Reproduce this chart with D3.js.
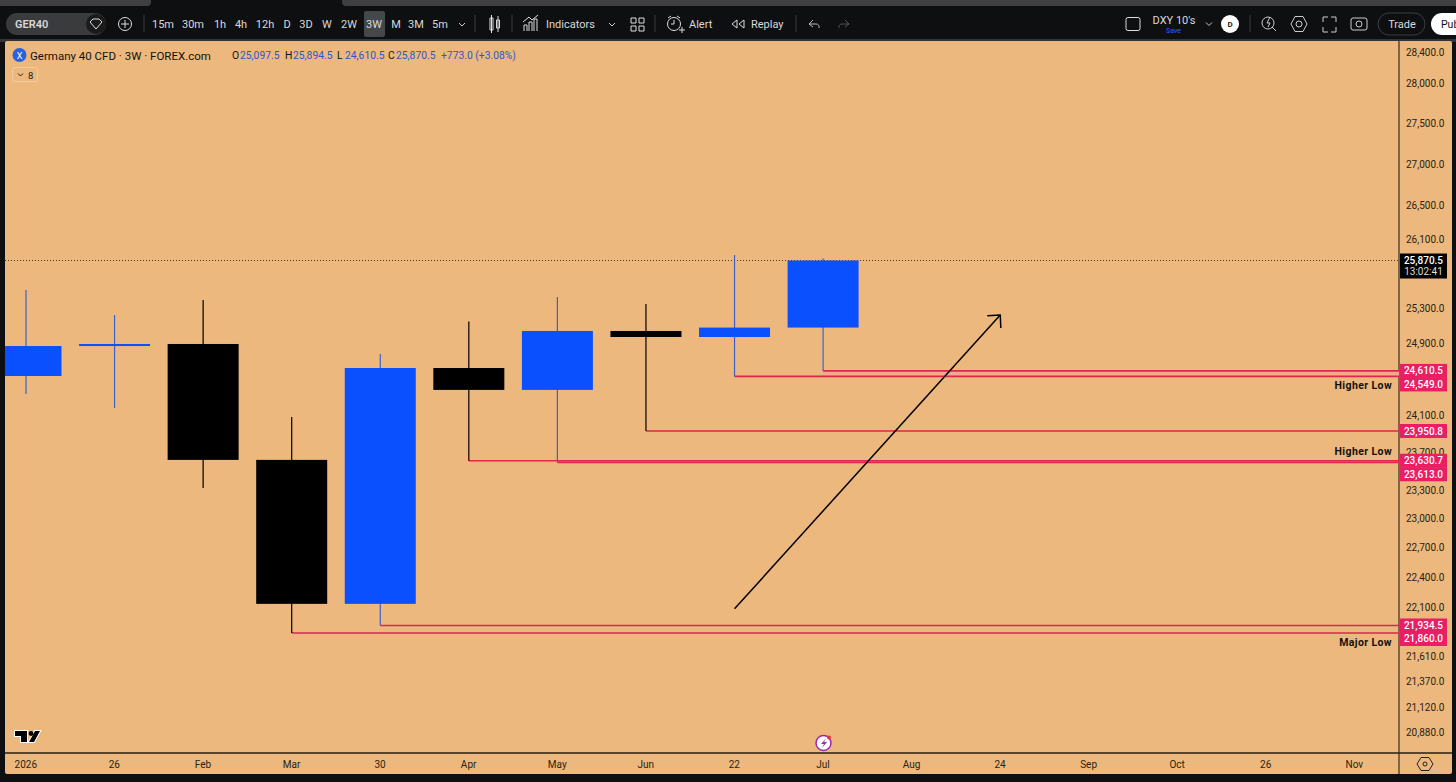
<!DOCTYPE html>
<html>
<head>
<meta charset="utf-8">
<script src="https://cdn.jsdelivr.net/npm/d3@7"></script>
<style>
	html, body { margin: 0; padding: 0; background: #0e0f11; overflow: hidden; }
	svg { display: block; }
	text { font-family: Roboto, sans-serif; }
	.axis path, .axis line { display: none; }
	.axis text { fill: #2a1f10; font-size: 10px; font-family: Roboto, sans-serif; }
</style>
</head>
<body>
<svg width="1456" height="782"></svg>
<script>
// candles (index = 3W bar)
const opens = [24554, 24889, 24912, 23640, 22150, 24643, 24400, 25059, 24991, 25097.5];
const highs = [25528, 25241, 25413, 24103, 24799, 25168, 25447, 25367, 25935, 25894.5];
const lows = [24355, 24202, 23342, 21860, 21934.5, 23630.7, 23613, 23950.8, 24549, 24610.5];
const closes = [24889, 24912, 23640, 22150, 24643, 24400, 25059, 24991, 25097.5, 25870.5];

const priceTicks = [28400, 28000, 27500, 27000, 26500, 26100, 25300, 24900, 24100, 23700, 23300, 23000, 22700, 22400, 22100, 21610, 21370, 21120, 20880];
const timeTicks = ["2026", "26", "Feb", "Mar", "30", "Apr", "May", "Jun", "22", "Jul", "Aug", "24", "Sep", "Oct", "26", "Nov"];

// horizontal lows: start bar + price
const levelPrices = [24610.5, 24549, 23950.8, 23630.7, 23613, 21934.5, 21860];
const levelBars = [9, 8, 7, 5, 6, 4, 3];

const noteTexts = ["Higher Low", "Higher Low", "Major Low"];
const notePrices = [24549, 23630.7, 21860];

const arrowBars = [8, 11];
const arrowPrices = [22100, 25241];

const lastPrice = 25870.5;
const toolbarItems = ["15m", "30m", "1h", "4h", "12h", "D", "3D", "W", "2W", "3W", "M", "3M", "5m"];
const toolbarX = [163, 193, 220, 241, 265, 287, 306, 327, 349, 374, 396, 416, 440];
const ohlcLabels = ["O", "H", "L", "C"];
const ohlcValues = ["25,097.5", "25,894.5", "24,610.5", "25,870.5"];

const BG = "#ecb87e";
const BLUE = "#0a50ff";
const PINK = "#e91e63";
const LINE = "#e0254f";

const svg = d3.select("svg");
const plotLeft = 5, plotRight = 1399, plotTop = 41, plotBottom = 753, axisRight = 1452, axisBottom = 774;

const y = d3.scaleLog().domain([21860, 25870.5]).range([633, 260.5]);
const x = d3.scaleLinear().domain([0, 15]).range([26, 1354.5]);
const candleWidth = 71;

// top strip + toolbar
svg.append("rect").attr("width", 1456).attr("height", 782).attr("fill", "#0e0f11");
svg.append("rect").attr("x", -5).attr("y", -4).attr("width", 156).attr("height", 10).attr("rx", 4).attr("fill", "#3f3f41");
svg.append("rect").attr("x", 342).attr("y", -4).attr("width", 1120).attr("height", 10).attr("rx", 4).attr("fill", "#3f3f41");
svg.append("rect").attr("x", 0).attr("y", 39).attr("width", 1456).attr("height", 3).attr("fill", "#333436");

// panels
svg.append("rect").attr("x", plotLeft).attr("y", plotTop).attr("width", axisRight - plotLeft).attr("height", axisBottom - plotTop).attr("rx", 2).attr("fill", BG);
svg.append("line").attr("x1", plotRight).attr("x2", plotRight).attr("y1", plotTop).attr("y2", axisBottom).attr("stroke", "#3a2c17").attr("stroke-width", 1.2);
svg.append("line").attr("x1", plotLeft).attr("x2", axisRight).attr("y1", plotBottom).attr("y2", plotBottom).attr("stroke", "#2a1f10").attr("stroke-width", 1.5);

const defs = svg.append("defs");
defs.append("clipPath").attr("id", "plot")
	.append("rect").attr("x", plotLeft).attr("y", plotTop).attr("width", plotRight - plotLeft).attr("height", plotBottom - plotTop);
const plot = svg.append("g").attr("clip-path", "url(#plot)");

// last price dotted line
plot.append("line")
	.attr("x1", plotLeft).attr("x2", plotRight)
	.attr("y1", y(lastPrice)).attr("y2", y(lastPrice))
	.attr("stroke", "#1a1a1a").attr("stroke-width", 0.8).attr("stroke-dasharray", "1 2");

// shaded band between the first two levels
plot.append("rect")
	.attr("x", x(levelBars[0])).attr("width", plotRight - x(levelBars[0]))
	.attr("y", y(levelPrices[0])).attr("height", y(levelPrices[1]) - y(levelPrices[0]))
	.attr("fill", "#f6a88f");

// levels
plot.selectAll("line.level")
	.data(levelPrices)
	.enter()
	.append("line")
	.attr("class", "level")
	.attr("x1", (d, i) => x(levelBars[i]))
	.attr("x2", plotRight)
	.attr("y1", d => y(d))
	.attr("y2", d => y(d))
	.attr("stroke", LINE)
	.attr("stroke-width", 1.7);

// candles
const bars = d3.range(opens.length);
const barColor = i => (closes[i] >= opens[i] ? BLUE : "#000");

plot.selectAll("line.wick")
	.data(bars)
	.enter()
	.append("line")
	.attr("class", "wick")
	.attr("x1", i => x(i)).attr("x2", i => x(i))
	.attr("y1", i => y(highs[i])).attr("y2", i => y(lows[i]))
	.attr("stroke", i => (closes[i] >= opens[i] ? "#3a63c8" : "#000"))
	.attr("stroke-width", 1.2);

plot.selectAll("rect.body")
	.data(bars)
	.enter()
	.append("rect")
	.attr("class", "body")
	.attr("x", i => x(i) - candleWidth / 2)
	.attr("width", candleWidth)
	.attr("y", i => y(Math.max(opens[i], closes[i])))
	.attr("height", i => Math.max(1.5, Math.abs(y(opens[i]) - y(closes[i]))))
	.attr("fill", barColor);

// arrow
const ax1 = x(arrowBars[0]), ay1 = y(arrowPrices[0]), ax2 = x(arrowBars[1]), ay2 = y(arrowPrices[1]);
const ang = Math.atan2(ay2 - ay1, ax2 - ax1);
plot.append("line")
	.attr("x1", ax1).attr("y1", ay1).attr("x2", ax2).attr("y2", ay2)
	.attr("stroke", "#000").attr("stroke-width", 1.5);
plot.append("path")
	.attr("d", d3.line()([
		[ax2 + 13 * Math.cos(ang + 2.36), ay2 + 13 * Math.sin(ang + 2.36)],
		[ax2, ay2],
		[ax2 + 13 * Math.cos(ang - 2.36), ay2 + 13 * Math.sin(ang - 2.36)],
	]))
	.attr("fill", "none").attr("stroke", "#000").attr("stroke-width", 1.5);

// notes
svg.selectAll("text.note")
	.data(noteTexts)
	.enter()
	.append("text")
	.attr("class", "note")
	.attr("x", 1392)
	.attr("y", (d, i) => y(notePrices[i]) + (i === 1 ? -6 : 13))
	.attr("text-anchor", "end")
	.attr("font-size", 10.5)
	.attr("font-weight", 700)
	.attr("letter-spacing", 0.4)
	.attr("fill", "#111")
	.text(d => d);

// axes
svg.append("g")
	.attr("class", "axis")
	.attr("transform", `translate(${plotRight + 1},-2)`)
	.call(d3.axisRight(y).tickValues(priceTicks).tickSize(0).tickPadding(6).tickFormat(d3.format(",.1f")));

svg.append("g")
	.attr("class", "axis")
	.attr("transform", `translate(-0.7,${plotBottom + 2})`)
	.call(d3.axisBottom(x).tickValues(d3.range(timeTicks.length)).tickSize(0).tickPadding(6).tickFormat(i => timeTicks[i]));

// price tags, pushed down when they would overlap
let prevTag = -100;
levelPrices.forEach(p => {
	const cy = Math.max(y(p), prevTag + 13.5);
	prevTag = cy;
	svg.append("rect").attr("x", plotRight + 1).attr("y", cy - 7).attr("width", 47).attr("height", 14).attr("fill", PINK);
	svg.append("text").attr("x", plotRight + 24.5).attr("y", cy + 3.5).attr("text-anchor", "middle")
		.attr("font-size", 10).attr("font-weight", 500).attr("fill", "#fff").text(d3.format(",.1f")(p));
});

// last price tag
svg.append("rect").attr("x", plotRight + 1).attr("y", y(lastPrice) - 7).attr("width", 47).attr("height", 25).attr("fill", "#000");
svg.append("text").attr("x", plotRight + 24.5).attr("y", y(lastPrice) + 3.5).attr("text-anchor", "middle")
	.attr("font-size", 10).attr("font-weight", 500).attr("fill", "#fff").text(d3.format(",.1f")(lastPrice));
svg.append("text").attr("x", plotRight + 24.5).attr("y", y(lastPrice) + 14.5).attr("text-anchor", "middle")
	.attr("font-size", 10).attr("fill", "#ddd").text("13:02:41");

// legend
svg.append("circle").attr("cx", 19.5).attr("cy", 55).attr("r", 7).attr("fill", "#2962d9");
svg.append("text").attr("x", 19.5).attr("y", 58.5).attr("text-anchor", "middle").attr("font-size", 9).attr("fill", "#fff").text("X");
svg.append("text").attr("x", 30).attr("y", 60).attr("font-size", 11.5).attr("fill", "#111").text("Germany 40 CFD · 3W · FOREX.com");

const ohlcX = [232, 285, 337, 388];
ohlcLabels.forEach((l, i) => {
	svg.append("text").attr("x", ohlcX[i]).attr("y", 59).attr("font-size", 10.3).attr("fill", "#111").text(l);
	svg.append("text").attr("x", ohlcX[i] + 8).attr("y", 59).attr("font-size", 10.3).attr("fill", "#2f55c8").text(ohlcValues[i]);
});
svg.append("text").attr("x", 441).attr("y", 59).attr("font-size", 10.3).attr("fill", "#2f55c8").text("+773.0 (+3.08%)");

svg.append("rect").attr("x", 12.5).attr("y", 67.5).attr("width", 25).attr("height", 14).attr("rx", 2).attr("fill", "none").attr("stroke", "#f3cda1");
svg.append("path").attr("d", "M18 73.5l2.5 2.5l2.5-2.5").attr("fill", "none").attr("stroke", "#222");
svg.append("text").attr("x", 28).attr("y", 79).attr("font-size", 9.5).attr("fill", "#222").text("8");

// tradingview mark
const tv = svg.append("g").attr("transform", "translate(14,730)");
tv.append("path").attr("d", "M1 1H13V12H7V6H1Z M21 1H26L20 12H15Z").attr("fill", "#000").attr("stroke", "#fff").attr("stroke-width", 2).attr("paint-order", "stroke");
tv.append("circle").attr("cx", 17).attr("cy", 3.5).attr("r", 2.4).attr("fill", "#000");

// axis settings + flash mark
svg.append("path").attr("d", "M1421 757.5h8l4 6.5l-4 6.5h-8l-4-6.5z").attr("fill", "none").attr("stroke", "#222");
svg.append("circle").attr("cx", 1425).attr("cy", 764).attr("r", 2).attr("fill", "none").attr("stroke", "#222");
svg.append("circle").attr("cx", 823.5).attr("cy", 743).attr("r", 7.5).attr("fill", "#fff").attr("stroke", "#9c27b0").attr("stroke-width", 1.5);
svg.append("path").attr("d", "M826 738.5L821 744H824L822 748L827 742H824Z").attr("fill", "#9c27b0");
svg.append("circle").attr("cx", 829).attr("cy", 737.5).attr("r", 2).attr("fill", "#e53935");

// toolbar
svg.append("rect").attr("x", 6).attr("y", 13).attr("width", 100).attr("height", 22).attr("rx", 11).attr("fill", "#3a3b3d");
svg.append("rect").attr("x", 364).attr("y", 11).attr("width", 21).attr("height", 26).attr("rx", 2).attr("fill", "#464749");

const tb = svg.append("g").attr("fill", "#d9d9d9").attr("font-size", 11).attr("text-anchor", "middle");
svg.append("circle").attr("cx", 96).attr("cy", 24).attr("r", 10).attr("fill", "#1b1b1c");
svg.append("path").attr("d", "M90 22L93 19H99L102 22L96 29Z").attr("fill", "none").attr("stroke", "#ddd");
tb.append("text").attr("x", 15).attr("y", 28).attr("text-anchor", "start").attr("font-weight", 600).text("GER40");

svg.append("circle").attr("cx", 125).attr("cy", 24).attr("r", 6.5).attr("fill", "none").attr("stroke", "#ddd");
svg.append("path").attr("d", "M121 24H129M125 20V28").attr("stroke", "#ddd");

toolbarItems.forEach((t, i) => {
	tb.append("text").attr("x", toolbarX[i]).attr("y", 28).text(t);
});
svg.append("path").attr("d", "M459 23l3 3l3-3").attr("fill", "none").attr("stroke", "#ccc");

const seps = [144, 475, 512, 655, 796, 1250];
svg.selectAll("line.sep").data(seps).enter().append("line").attr("class", "sep")
	.attr("x1", d => d).attr("x2", d => d).attr("y1", 15).attr("y2", 32).attr("stroke", "#3c3d3f");

// candle icon
svg.append("path").attr("d", "M490 18h3v12h-3z M496.5 20h3v8h-3z M491.5 15v18 M498 16v16").attr("fill", "none").attr("stroke", "#ddd");
// indicators icon
svg.append("path").attr("d", "M524 31V25h3v6 M529 31V22h3v9 M534 31V19h3v12 M523 22l6-5l3 3l6-5").attr("fill", "none").attr("stroke", "#ddd");
tb.append("text").attr("x", 546).attr("y", 28).attr("text-anchor", "start").text("Indicators");
svg.append("path").attr("d", "M609 23l3 3l3-3").attr("fill", "none").attr("stroke", "#ccc");
svg.append("path").attr("d", "M631 18h5v5h-5z M639 18h5v5h-5z M631 26h5v5h-5z M639 26h5v5h-5z").attr("fill", "none").attr("stroke", "#ddd");
// alert
svg.append("circle").attr("cx", 674).attr("cy", 24).attr("r", 6.5).attr("fill", "none").attr("stroke", "#ddd");
svg.append("path").attr("d", "M674 20v4h-3 M679 30h6M682 27v6 M668 18l3-2 M680 18l-3-2").attr("fill", "none").attr("stroke", "#ddd");
tb.append("text").attr("x", 689).attr("y", 28).attr("text-anchor", "start").text("Alert");
// replay
svg.append("path").attr("d", "M737 20l-5 4l5 4z M744 20l-5 4l5 4z").attr("fill", "none").attr("stroke", "#ddd");
tb.append("text").attr("x", 751).attr("y", 28).attr("text-anchor", "start").text("Replay");
// undo, redo
svg.append("path").attr("d", "M809 24l4-4M809 24l4 3M809 24h7a3 3 0 0 1 3 4").attr("fill", "none").attr("stroke", "#bbb");
svg.append("path").attr("d", "M849 24l-4-4M849 24l-4 3M849 24h-7a3 3 0 0 0 -3 4").attr("fill", "none").attr("stroke", "#555");

// right side of toolbar
svg.append("rect").attr("x", 1126).attr("y", 17.5).attr("width", 14).attr("height", 13).attr("rx", 2).attr("fill", "none").attr("stroke", "#ddd");
tb.append("text").attr("x", 1174).attr("y", 24).text("DXY 10's");
svg.append("text").attr("x", 1173.5).attr("y", 33).attr("text-anchor", "middle").attr("font-size", 7).attr("fill", "#2962ff").text("Save");
svg.append("path").attr("d", "M1206 22.5l3 3l3-3").attr("fill", "none").attr("stroke", "#ccc");
svg.append("circle").attr("cx", 1230).attr("cy", 24).attr("r", 9).attr("fill", "#fff");
svg.append("text").attr("x", 1230).attr("y", 27).attr("text-anchor", "middle").attr("font-size", 8).attr("font-weight", 700).attr("fill", "#222").text("D");
svg.append("circle").attr("cx", 1268).attr("cy", 23).attr("r", 6).attr("fill", "none").attr("stroke", "#ccc");
svg.append("path").attr("d", "M1272 27l4 4 M1270 17l-3 6h3l-2 4").attr("fill", "none").attr("stroke", "#ccc");
svg.append("path").attr("d", "M1295 16.5h8l4 7.5l-4 7.5h-8l-4-7.5z").attr("fill", "none").attr("stroke", "#ccc");
svg.append("circle").attr("cx", 1299).attr("cy", 24).attr("r", 3).attr("fill", "none").attr("stroke", "#ccc");
svg.append("path").attr("d", "M1323 22v-5h5M1331 17h5v5M1336 27v5h-5M1328 32h-5v-5").attr("fill", "none").attr("stroke", "#ccc");
svg.append("rect").attr("x", 1351).attr("y", 18).attr("width", 16).attr("height", 12).attr("rx", 2).attr("fill", "none").attr("stroke", "#ccc");
svg.append("circle").attr("cx", 1359).attr("cy", 24).attr("r", 3).attr("fill", "none").attr("stroke", "#ccc");
svg.append("rect").attr("x", 1378).attr("y", 13).attr("width", 47).attr("height", 22).attr("rx", 11).attr("fill", "none").attr("stroke", "#3c3d3f");
tb.append("text").attr("x", 1402).attr("y", 28).text("Trade");
svg.append("rect").attr("x", 1431).attr("y", 13).attr("width", 40).attr("height", 22).attr("rx", 11).attr("fill", "#fff");
svg.append("text").attr("x", 1441).attr("y", 28).attr("font-size", 10.5).attr("fill", "#111").text("Publish");
</script>
</body>
</html>
